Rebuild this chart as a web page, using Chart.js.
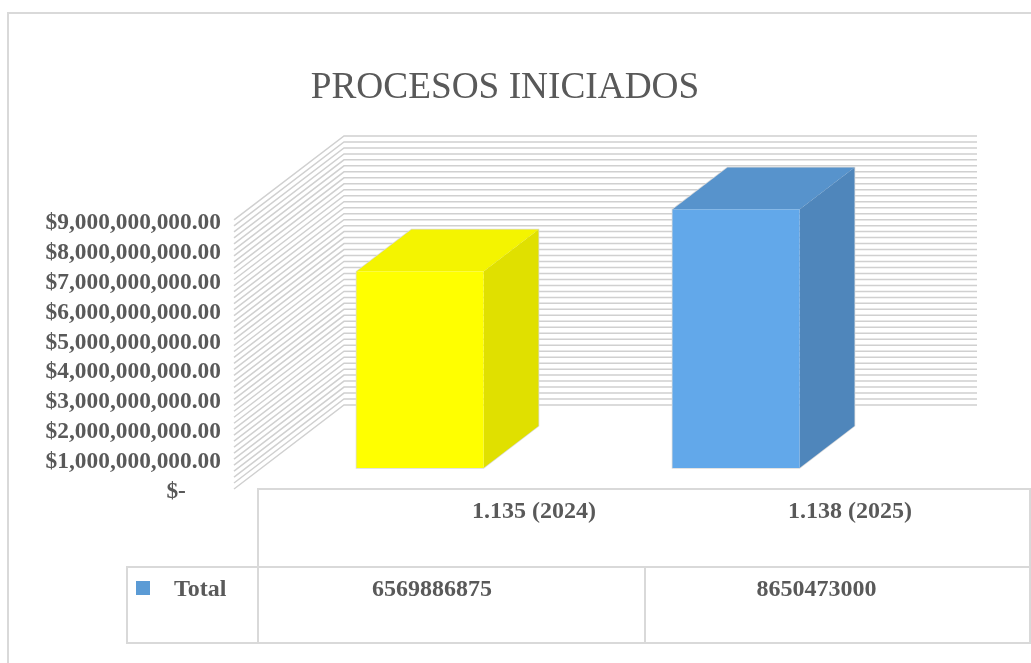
<!DOCTYPE html>
<html>
<head>
<meta charset="utf-8">
<style>html,body{margin:0;padding:0;background:#fff;overflow:hidden}canvas{display:block}</style>
<script src="https://cdn.jsdelivr.net/npm/chart.js@4"></script>
</head>
<body>
<canvas id="c" width="1031" height="663"></canvas>
<script>
const titleText = 'PROCESOS INICIADOS';
const categories = ['1.135 (2024)', '1.138 (2025)'];
const seriesName = 'Total';
const totals = [6569886875, 8650473000];
const frontColors = ['#FFFF00', '#62A8EA'];
const topColors = ['#F4F400', '#5793CC'];
const sideColors = ['#E0E000', '#4F86BB'];
const axisMax = 9000000000;
const majorStep = 1000000000;
const minorStep = 200000000;

const TEXT = '#595959', LINE = '#D9D9D9', GRID = '#D0D0D0', EDGE = '#DADADA';
const SERIF = '"Liberation Serif","Times New Roman",serif';
const wallDx = 110, wallDy = -84, barDx = 55, barDy = -42, frontDx = 28, frontDy = -21;

function fmt(v) {
  if (v === 0) return '$-      ';
  if (v % majorStep !== 0) return '';
  return '$' + v.toLocaleString('en-US', {minimumFractionDigits: 2, maximumFractionDigits: 2});
}

const scene3d = {
  id: 'scene3d',
  afterLayout(chart) {
    // the title is centred over the plot including its depth
    chart.titleBlock.left = 0;
    chart.titleBlock.right = 1010;
  },
  beforeDraw(chart) {
    const ctx = chart.ctx;
    ctx.save();
    ctx.strokeStyle = LINE;
    ctx.lineWidth = 2;
    const seg = (a, b, c, d) => { ctx.beginPath(); ctx.moveTo(a, b); ctx.lineTo(c, d); ctx.stroke(); };
    // frame
    seg(8, 663, 8, 12); seg(7, 13, 1031, 13);
    // table
    seg(257, 489, 1030, 489); seg(127, 567, 1030, 567); seg(127, 643, 1030, 643);
    seg(127, 566, 127, 644); seg(258, 489, 258, 643); seg(645, 567, 645, 643); seg(1030, 488, 1030, 644);
    // legend key + table text
    ctx.fillStyle = '#5B9BD5';
    ctx.fillRect(136, 581, 14, 14);
    ctx.fillStyle = TEXT;
    ctx.font = 'bold 24px ' + SERIF;
    ctx.textBaseline = 'middle';
    ctx.textAlign = 'left';
    ctx.fillText(seriesName, 174, 590);
    ctx.textAlign = 'center';
    ctx.fillText(String(totals[0]), 432, 590);
    ctx.fillText(String(totals[1]), 816.5, 590);
    ctx.restore();
  },
  beforeDatasetsDraw(chart) {
    const ctx = chart.ctx, y = chart.scales.y, a = chart.chartArea;
    ctx.save();
    ctx.strokeStyle = GRID;
    ctx.lineWidth = 1.5;
    y.ticks.forEach(t => {
      const py = y.getPixelForValue(t.value);
      ctx.beginPath();
      ctx.moveTo(a.left, py);
      ctx.lineTo(a.left + wallDx, py + wallDy);
      ctx.lineTo(a.right + wallDx + 1, py + wallDy);
      ctx.stroke();
    });
    // bar depth faces, with the faint outline around the whole box
    chart.getDatasetMeta(0).data.forEach((bar, i) => {
      const p = bar.getProps(['x', 'y', 'base', 'width'], true);
      const l = p.x - p.width / 2 + frontDx, r = p.x + p.width / 2 + frontDx;
      const t = p.y + frontDy, b = p.base + frontDy;
      ctx.strokeStyle = EDGE;
      ctx.lineWidth = 1.5;
      ctx.beginPath();
      ctx.moveTo(l, b); ctx.lineTo(l, t); ctx.lineTo(l + barDx, t + barDy); ctx.lineTo(r + barDx, t + barDy);
      ctx.lineTo(r + barDx, b + barDy); ctx.lineTo(r, b);
      ctx.closePath(); ctx.stroke();
      ctx.fillStyle = topColors[i];
      ctx.beginPath();
      ctx.moveTo(l, t); ctx.lineTo(l + barDx, t + barDy); ctx.lineTo(r + barDx, t + barDy); ctx.lineTo(r, t);
      ctx.closePath(); ctx.fill();
      ctx.fillStyle = sideColors[i];
      ctx.beginPath();
      ctx.moveTo(r, t); ctx.lineTo(r + barDx, t + barDy); ctx.lineTo(r + barDx, b + barDy); ctx.lineTo(r, b);
      ctx.closePath(); ctx.fill();
    });
    ctx.restore();
    ctx.save();
    ctx.translate(frontDx, frontDy);
  },
  afterDatasetsDraw(chart) {
    chart.ctx.restore();
  }
};

new Chart(document.getElementById('c'), {
  type: 'bar',
  data: {
    labels: categories,
    datasets: [{
      label: seriesName,
      data: totals,
      backgroundColor: frontColors,
      borderWidth: 0,
      barPercentage: 1,
      categoryPercentage: 0.402,
      clip: false
    }]
  },
  options: {
    responsive: false,
    animation: false,
    devicePixelRatio: 1,
    layout: {padding: {left: 0, right: 165, top: 0, bottom: 0}},
    plugins: {
      legend: {display: false},
      tooltip: {enabled: false},
      title: {
        display: true,
        text: titleText,
        color: TEXT,
        font: {family: SERIF, size: 37.3, weight: 'normal', lineHeight: 1.2},
        padding: {top: 66, bottom: 109.2}
      }
    },
    scales: {
      x: {
        grid: {display: false, drawTicks: false},
        border: {display: false},
        afterFit(s) { s.height = 174; },
        ticks: {color: TEXT, font: {family: SERIF, size: 24, weight: 'bold'}, padding: 8, labelOffset: 142, maxRotation: 0, autoSkip: false}
      },
      y: {
        min: 0,
        max: axisMax,
        grid: {display: false, drawTicks: false},
        border: {display: false},
        afterFit(s) { s.width = 234; },
        ticks: {color: TEXT, stepSize: minorStep, autoSkip: false, padding: 13, labelOffset: 3, font: {family: SERIF, size: 23.4, weight: 'bold'}, callback: fmt}
      }
    }
  },
  plugins: [scene3d]
});
</script>
</body>
</html>
